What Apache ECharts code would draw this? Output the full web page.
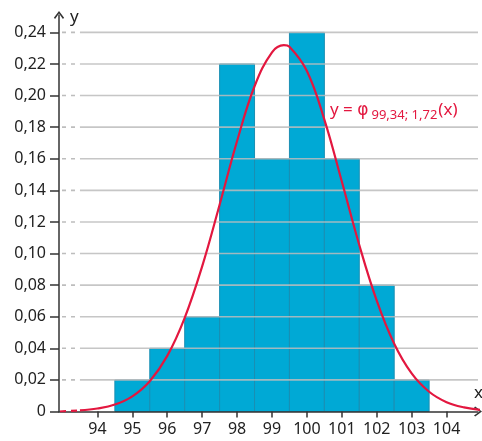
<!DOCTYPE html>
<html>
<head>
<meta charset="utf-8">
<script src="https://cdn.jsdelivr.net/npm/echarts@6/dist/echarts.min.js"></script>
<style>
  html, body { margin: 0; padding: 0; background: #fff; }
  #chart { width: 482px; height: 441px; }
</style>
</head>
<body>
<div id="chart"></div>
<script>
// histogram: class centres and relative frequencies
const classes = [95, 96, 97, 98, 99, 100, 101, 102, 103];
const freqs = [0.02, 0.04, 0.06, 0.22, 0.16, 0.24, 0.16, 0.08, 0.02];

// density curve
const curveX = [93.5, 94, 94.5, 95, 95.5, 96, 96.5, 97, 97.5, 98, 98.5, 99, 99.34, 99.5, 100,
    100.5, 101, 101.5, 102, 102.5, 103, 103.5, 104, 104.5, 105];
const curveY = [0.0007, 0.0019, 0.0044, 0.0096, 0.0192, 0.0352, 0.0593, 0.0919, 0.1309, 0.1712, 0.2059, 0.2274, 0.2319, 0.2309, 0.2155,
    0.1848, 0.1456, 0.1054, 0.0702, 0.0429, 0.0241, 0.0125, 0.0059, 0.0026, 0.0010];

// ticks
const xTicks = [94, 95, 96, 97, 98, 99, 100, 101, 102, 103, 104];
const yTicks = [0, 0.02, 0.04, 0.06, 0.08, 0.10, 0.12, 0.14, 0.16, 0.18, 0.20, 0.22, 0.24];
const yTickLabels = ['0', '0,02', '0,04', '0,06', '0,08', '0,10', '0,12', '0,14', '0,16', '0,18', '0,20', '0,22', '0,24'];

const chart = echarts.init(document.getElementById('chart'));

const font = 'Noto Sans';
const axisColor = '#333';
const red = '#e3173f';
const arrow = 'path://M0,8 L6,0 L12,8 L10.6,9.4 L6,2.8 L1.4,9.4 Z';
const xMin = 92.9;
const gridStart = 93.5;

const option = {
    animation: false,
    grid: { left: 59, right: 4, top: 15, bottom: 29.5 },
    xAxis: {
        type: 'value',
        min: xMin,
        max: 104.9,
        z: 10,
        axisLine: {
            lineStyle: { color: axisColor, width: 1.5 },
            symbol: ['none', arrow],
            symbolSize: [11, 8]
        },
        axisTick: {
            customValues: xTicks,
            length: 6,
            lineStyle: { color: axisColor, width: 1.5 }
        },
        axisLabel: {
            customValues: xTicks,
            color: '#222',
            fontFamily: font,
            fontSize: 16,
            margin: 10
        },
        splitLine: { show: false }
    },
    yAxis: {
        type: 'value',
        min: 0,
        max: 0.251,
        z: 10,
        axisLine: {
            lineStyle: { color: axisColor, width: 1.5 },
            symbol: ['none', arrow],
            symbolSize: [11, 8]
        },
        axisTick: {
            customValues: yTicks,
            length: 9,
            lineStyle: { color: axisColor, width: 1.5 }
        },
        axisLabel: {
            customValues: yTicks,
            color: '#222',
            fontFamily: font,
            fontSize: 16,
            margin: 13,
            formatter: v => {
                const i = yTicks.findIndex(t => Math.abs(t - v) < 1e-6);
                return i >= 0 ? yTickLabels[i] : '';
            }
        },
        splitLine: { show: false }
    },
    graphic: [
        {
            type: 'text', left: 70, top: 9, z: 20,
            style: { text: 'y', fill: '#222', font: '17px "Noto Sans"' }
        },
        {
            type: 'text', left: 474, top: 385, z: 20,
            style: { text: 'x', fill: '#222', font: '17px "Noto Sans"' }
        },
        {
            type: 'text', left: 330, top: 99, z: 20,
            style: {
                text: '{a|y = }{c|φ}{b|99,34; 1,72}{a|(x)}',
                rich: {
                    a: { fill: red, fontFamily: font, fontSize: 17, lineHeight: 20, verticalAlign: 'top' },
                    c: { fill: red, fontFamily: 'DejaVu Sans', fontSize: 17, lineHeight: 20, verticalAlign: 'top' },
                    b: { fill: red, fontFamily: font, fontSize: 13, lineHeight: 14, verticalAlign: 'bottom', padding: [10, 1, 0, 3] }
                }
            }
        }
    ],
    series: [
        {
            name: 'histogram',
            type: 'custom',
            z: 2,
            data: classes.map((c, i) => [c, freqs[i]]),
            renderItem: (params, api) => {
                const c = api.value(0);
                const f = api.value(1);
                const p0 = api.coord([c - 0.5, f]);
                const p1 = api.coord([c + 0.5, 0]);
                return {
                    type: 'rect',
                    shape: { x: p0[0], y: p0[1], width: p1[0] - p0[0], height: p1[1] - p0[1] },
                    style: { fill: '#00a9d5', stroke: '#1a8fb3', lineWidth: 1 }
                };
            }
        },
        {
            name: 'grid lines',
            type: 'custom',
            z: 3,
            silent: true,
            data: yTicks.slice(1).map(v => [v]),
            renderItem: (params, api) => {
                const v = api.value(0);
                const a = api.coord([xMin, v]);
                const b = api.coord([gridStart, v]);
                const e = api.coord([104.9, v]);
                return {
                    type: 'group',
                    children: [
                        {
                            type: 'line',
                            shape: { x1: a[0] + 3, y1: a[1], x2: b[0], y2: b[1] },
                            style: { stroke: '#bdbdbd', lineWidth: 1.6, lineDash: [4, 5] }
                        },
                        {
                            type: 'line',
                            shape: { x1: b[0], y1: b[1], x2: e[0], y2: e[1] },
                            style: { stroke: '#bcbcbc', lineWidth: 1.6, opacity: 0.85 }
                        }
                    ]
                };
            }
        },
        {
            name: 'curve start',
            type: 'line',
            z: 12,
            symbol: 'none',
            data: [[xMin + 0.03, 0], [gridStart, curveY[0]]],
            lineStyle: { color: red, width: 2.2, type: [6, 5] }
        },
        {
            name: 'density',
            type: 'line',
            z: 12,
            symbol: 'none',
            smooth: 0.4,
            data: curveX.map((x, i) => [x, curveY[i]]),
            lineStyle: { color: red, width: 2.2 }
        }
    ]
};

chart.setOption(option);

window.addEventListener('resize', () => {
    chart.resize();
});
</script>
</body>
</html>
